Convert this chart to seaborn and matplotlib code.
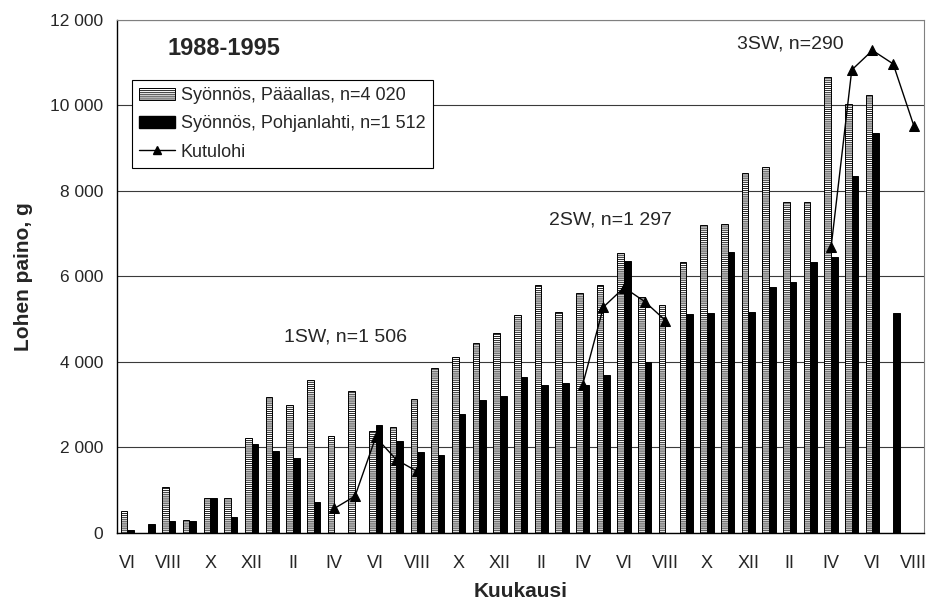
import numpy as np
import pandas as pd
import matplotlib
matplotlib.use('Agg')
import matplotlib.pyplot as plt
import seaborn as sns
from matplotlib.patches import Patch
from matplotlib.lines import Line2D
from matplotlib.ticker import FuncFormatter

nan = np.nan

# months from VI (first year) to VIII (fourth year)
months = ['VI', 'VII', 'VIII', 'IX', 'X', 'XI', 'XII', 'I', 'II', 'III', 'IV', 'V',
          'VI', 'VII', 'VIII', 'IX', 'X', 'XI', 'XII', 'I', 'II', 'III', 'IV', 'V',
          'VI', 'VII', 'VIII', 'IX', 'X', 'XI', 'XII', 'I', 'II', 'III', 'IV', 'V',
          'VI', 'VII', 'VIII']

paaallas = [520, nan, 1080, 300, 820, 820, 2230, 3180, 2990, 3590, 2280, 3320,
            2390, 2490, 3140, 3860, 4110, 4440, 4670, 5110, 5790, 5170, 5620, 5810,
            6560, 5520, 5330, 6330, 7210, 7230, 8410, 8565, 7740, 7740, 10670, 10045,
            10240, nan, nan]

pohjanlahti = [80, 220, 275, 275, 820, 375, 2086, 1922, 1757, 730, nan, nan,
               2528, 2148, 1900, 1822, 2772, 3107, 3193, 3643, 3472, 3503, 3472, 3700,
               6369, 3990, nan, 5112, 5144, 6565, 5176, 5757, 5875, 6329, 6450, 8344,
               9348, 5140, nan]

kutulohi = [nan, nan, nan, nan, nan, nan, nan, nan, nan, nan, 573, 863,
            2240, 1713, 1440, nan, nan, nan, nan, nan, nan, nan, 3472, 5285,
            5741, 5411, 4970, nan, nan, nan, nan, nan, nan, nan, 6680, 10832,
            11290, 10973, 9525]

# spawning season of each kutulohi point (1SW, 2SW, 3SW)
season = ['', '', '', '', '', '', '', '', '', '', '1SW', '1SW',
          '1SW', '1SW', '1SW', '', '', '', '', '', '', '', '2SW', '2SW',
          '2SW', '2SW', '2SW', '', '', '', '', '', '', '', '3SW', '3SW',
          '3SW', '3SW', '3SW']

lab_a = 'Syönnös, Pääallas, n=4 020'
lab_b = 'Syönnös, Pohjanlahti, n=1 512'

idx = list(range(len(months)))
bars = pd.concat([
    pd.DataFrame({'kk': idx, 'paino': paaallas, 'ryhma': lab_a}),
    pd.DataFrame({'kk': idx, 'paino': pohjanlahti, 'ryhma': lab_b}),
]).dropna()
kutu = pd.DataFrame({'kk': idx, 'paino': kutulohi, 'kausi': season}).dropna()

sns.set_style('white')
plt.rcParams['font.family'] = ['Liberation Sans', 'DejaVu Sans']
plt.rcParams['hatch.linewidth'] = 0.6

fig = plt.figure(figsize=(9.31, 6.08), dpi=100)
ax = fig.add_axes([0.1257, 0.1234, 0.867, 0.8437])

sns.barplot(data=bars, x='kk', y='paino', hue='ryhma', order=idx,
            hue_order=[lab_a, lab_b], palette={lab_a: 'white', lab_b: 'black'},
            width=0.64, edgecolor='black', linewidth=0.7, legend=False, ax=ax)
for p in ax.containers[0]:
    p.set_hatch('--------')

sns.lineplot(data=kutu, x='kk', y='paino', units='kausi', estimator=None,
             color='black', linewidth=1, marker='^', markersize=7,
             markeredgecolor='black', legend=False, ax=ax)

ax.set_xlim(-0.5, len(months) - 0.5)
ax.set_ylim(0, 12000)
ax.set_yticks(range(0, 12001, 2000))
ax.yaxis.set_major_formatter(FuncFormatter(lambda v, p: f'{int(v):,}'.replace(',', ' ')))
ax.grid(axis='y', color='#3a3a3a', linewidth=0.8)
ax.set_axisbelow(True)

ax.set_xticks(np.arange(-0.5, len(months), 1))
ax.set_xticklabels([])
ax.set_xticks(idx[::2], minor=True)
ax.set_xticklabels(months[::2], minor=True)
ax.tick_params(axis='x', which='major', direction='out', length=5, width=0.8, color='black')
ax.tick_params(axis='x', which='minor', length=0, pad=16, labelsize=13)
ax.tick_params(axis='y', direction='out', length=5, width=0.8, color='black', labelsize=12.5, pad=5)

for s in ['left', 'bottom']:
    ax.spines[s].set_color('black')
    ax.spines[s].set_linewidth(1)
for s in ['top', 'right']:
    ax.spines[s].set_color('#808080')
    ax.spines[s].set_linewidth(0.8)

ax.set_xlabel('Kuukausi', fontsize=15, fontweight='bold', labelpad=7)
ax.set_ylabel('Lohen paino, g', fontsize=15, fontweight='bold', labelpad=12)

ax.text(1.92, 11345, '1988-1995', fontsize=17, fontweight='bold', va='center')
ax.text(7.57, 4585, '1SW, n=1 506', fontsize=14, va='center')
ax.text(20.37, 7320, '2SW, n=1 297', fontsize=14, va='center')
ax.text(29.45, 11430, '3SW, n=290', fontsize=14, va='center')

handles = [Patch(facecolor='white', edgecolor='black', hatch='--------', linewidth=0.7),
           Patch(facecolor='black', edgecolor='black'),
           Line2D([], [], color='black', linewidth=1, marker='^', markersize=6)]
leg = ax.legend(handles, [lab_a, lab_b, 'Kutulohi'], loc='upper left',
                bbox_to_anchor=(0.0186, 0.883), borderaxespad=0, fontsize=13,
                frameon=True, fancybox=False, framealpha=1, edgecolor='black',
                handlelength=2.0, handletextpad=0.3, labelspacing=0.62,
                borderpad=0.4)
leg.get_frame().set_linewidth(0.8)

fig.savefig('out.png', dpi=100)
